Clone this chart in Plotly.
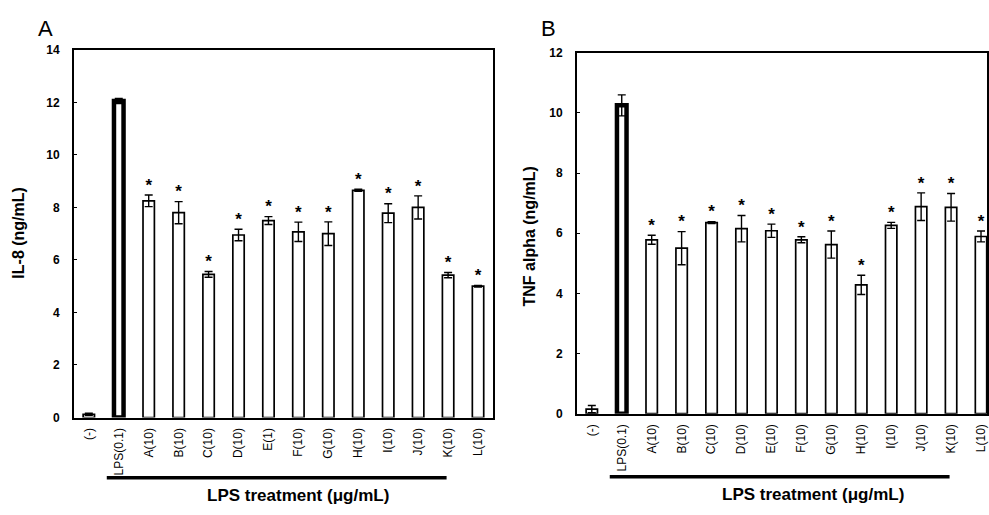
import plotly.graph_objects as go

cats_a = ["(-)", "LPS(0.1)", "A(10)", "B(10)", "C(10)", "D(10)", "E(1)", "F(10)",
          "G(10)", "H(10)", "I(10)", "J(10)", "K(10)", "L(10)"]
il8 = [0.12, 12.05, 8.25, 7.8, 5.45, 6.95, 7.5, 7.07, 7.0, 8.65, 7.78, 8.0, 5.42, 5.0]
il8_err = [0.04, 0.1, 0.22, 0.42, 0.11, 0.22, 0.15, 0.37, 0.45, 0.04, 0.36, 0.44, 0.1, 0.03]

cats_b = ["(-)", "LPS(0.1)", "A(10)", "B(10)", "C(10)", "D(10)", "E(10)", "F(10)",
          "G(10)", "H(10)", "I(10)", "J(10)", "K(10)", "L(10)"]
tnf = [0.15, 10.25, 5.78, 5.5, 6.35, 6.15, 6.08, 5.78, 5.62, 4.28, 6.26, 6.88, 6.86, 5.89]
tnf_err = [0.12, 0.35, 0.15, 0.55, 0.03, 0.44, 0.22, 0.1, 0.45, 0.32, 0.1, 0.46, 0.46, 0.18]

signif = [False, False] + [True] * 12

FONT = "Liberation Sans, Arial, sans-serif"
W, H = 989, 515

def px(x):
    return x / W

def py(y):
    return 1 - y / H

fig = go.Figure()

def add_panel(cats, vals, errs, xa, ya):
    lw = [4.5 if c.startswith("LPS") else 1.7 for c in cats]
    widths = [0.32 if c.startswith("LPS") else 0.38 for c in cats]
    fig.add_trace(go.Bar(
        x=cats, y=vals, width=widths,
        marker=dict(color="white", line=dict(color="black", width=lw)),
        error_y=dict(type="data", array=errs, color="black", thickness=1.4, width=4),
        xaxis=xa, yaxis=ya, showlegend=False, hoverinfo="skip", cliponaxis=True))
    sx = [c for c, s in zip(cats, signif) if s]
    sy = [v + e for v, e, s in zip(vals, errs, signif) if s]
    fig.add_trace(go.Scatter(
        x=sx, y=sy, mode="text", text=["<b>*</b>"] * len(sx),
        textposition="top center",
        textfont=dict(family=FONT, size=17, color="black"),
        xaxis=xa, yaxis=ya, showlegend=False, hoverinfo="skip"))

add_panel(cats_a, il8, il8_err, "x", "y")
add_panel(cats_b, tnf, tnf_err, "x2", "y2")

xcommon = dict(type="category", showline=True, linecolor="black", linewidth=1.5,
               mirror=True, ticks="", tickangle=-90, ticklabelstandoff=4,
               tickfont=dict(family=FONT, size=12, color="black"),
               showgrid=False, zeroline=False, fixedrange=True)
ycommon = dict(showline=True, linecolor="black", linewidth=1.5, mirror=True,
               ticks="inside", ticklen=3, tickcolor="black",
               tickfont=dict(family=FONT, size=12, color="black", weight="bold"),
               showgrid=False, zeroline=False, dtick=2, ticklabelstandoff=10)

fig.update_layout(
    width=W, height=H,
    margin=dict(l=0, r=0, t=0, b=0),
    paper_bgcolor="white", plot_bgcolor="white",
    xaxis=dict(xcommon, domain=[px(74), px(494)], range=[-0.5, 13.5], anchor="y"),
    yaxis=dict(ycommon, domain=[py(422), py(44)], range=[0, 14], anchor="x"),
    xaxis2=dict(xcommon, domain=[px(578), 1.0], range=[-0.5, 13.2], anchor="y2"),
    yaxis2=dict(ycommon, domain=[py(418), py(47)], range=[0, 12], anchor="x2"),
)

for xr, yline, ytext, xtext in [("x", 484, 502, 7.0), ("x2", 483, 501, 7.4)]:
    fig.add_shape(type="line", xref=xr, yref="paper", x0=0.6, x1=11.95,
                  y0=py(yline), y1=py(yline),
                  line=dict(color="black", width=3.5))
    fig.add_annotation(xref=xr, yref="paper", x=xtext, y=py(ytext),
                       text="<b>LPS treatment (μg/mL)</b>", showarrow=False,
                       font=dict(family=FONT, size=17, color="black"),
                       xanchor="center", yanchor="middle")

fig.add_annotation(xref="paper", yref="paper", x=px(19), y=py(232),
                   text="<b>IL-8 (ng/mL)</b>", textangle=-90, showarrow=False,
                   font=dict(family=FONT, size=16, color="black"),
                   xanchor="center", yanchor="middle")
fig.add_annotation(xref="paper", yref="paper", x=px(531), y=py(236),
                   text="<b>TNF alpha (ng/mL)</b>", textangle=-90, showarrow=False,
                   font=dict(family=FONT, size=16, color="black"),
                   xanchor="center", yanchor="middle")
fig.add_annotation(xref="paper", yref="paper", x=px(46), y=py(22),
                   text="A", showarrow=False,
                   font=dict(family=FONT, size=22, color="black"),
                   xanchor="center", yanchor="middle")
fig.add_annotation(xref="paper", yref="paper", x=px(550), y=py(22),
                   text="B", showarrow=False,
                   font=dict(family=FONT, size=22, color="black"),
                   xanchor="center", yanchor="middle")

fig.write_html(
    "out.html",
    config={"displayModeBar": False},
    post_script="document.body.style.margin='0px';",
)
